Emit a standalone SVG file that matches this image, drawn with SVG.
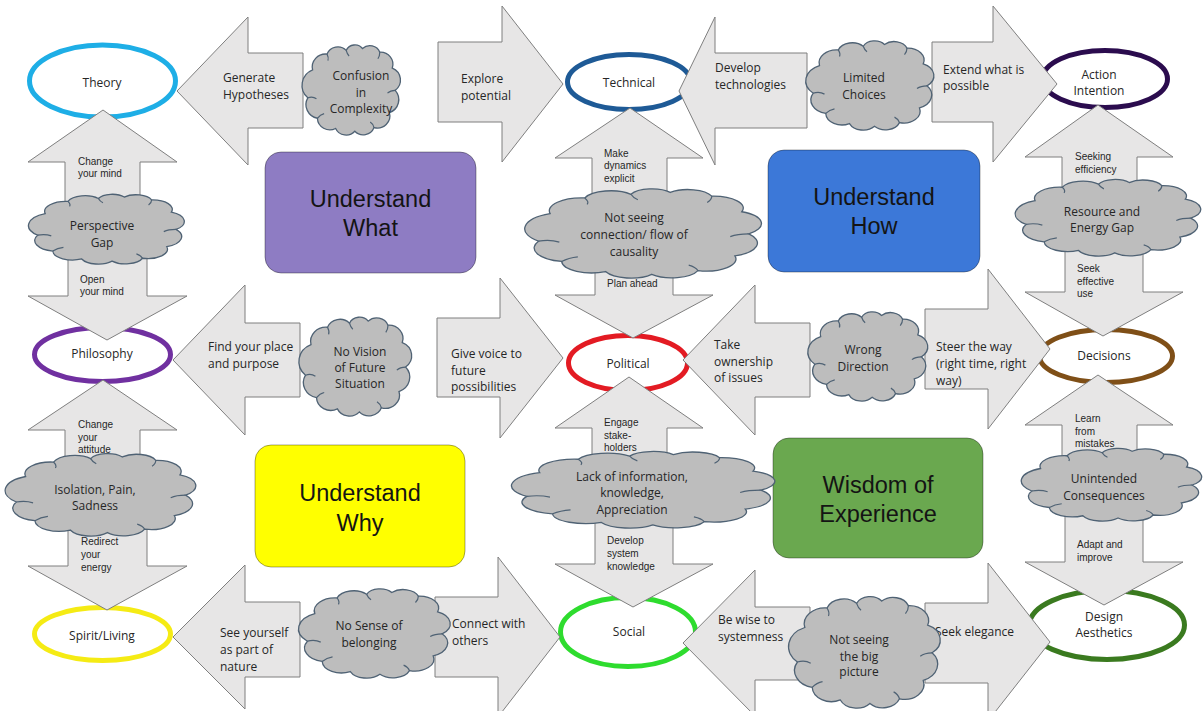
<svg xmlns="http://www.w3.org/2000/svg" xmlns:xlink="http://www.w3.org/1999/xlink" width="1204" height="711" viewBox="0 0 1204 711">
<style>
  .arrow { fill:#E7E6E6; stroke:#7F7F7F; stroke-width:1; }
  .cloud { fill:#BDBDBD; stroke:#4F6274; stroke-width:1.3; }
  .cline { fill:none; stroke:#4F6274; stroke-width:1.2; }
  .ring { fill:#FFFFFF; stroke-width:5; }
  .box { stroke:#000000; stroke-opacity:0.35; stroke-width:1; }
  .t { font-family:"Open Sans","Liberation Sans",sans-serif; font-size:12px; fill:#262626; }
  .s { font-family:"Liberation Sans",Arial,sans-serif; font-size:10px; fill:#262626; }
  .c { text-anchor:middle; }
  .big { font-family:"Liberation Sans",Arial,sans-serif; font-size:23.5px; fill:#141414; text-anchor:middle; }
</style>
<defs>
  <symbol id="cloud" viewBox="0 0 100 100" preserveAspectRatio="none" overflow="visible">
    <path class="cloud" vector-effect="non-scaling-stroke" d="M5 60 A18 18 0 0 1 10 30 A14 14 0 0 1 25 13 A12 12 0 0 1 45 9 A10 10 0 0 1 62 7 A11 11 0 0 1 80 11 A13 13 0 0 1 93 28 A14 14 0 0 1 96 52 A15 15 0 0 1 90 76 A13 13 0 0 1 74 92 A12 12 0 0 1 54 96 A12 12 0 0 1 34 93 A13 13 0 0 1 15 82 A15 15 0 0 1 5 60 Z"/>
    <path class="cline" vector-effect="non-scaling-stroke" d="M5 60 Q10 58 14 61 M15 82 Q18 78 22 77 M45 9 Q46 13 48 15 M80 11 Q80 15 78 18 M96 52 Q91 52 88 55 M74 92 Q73 88 70 86 M25 13 Q27 17 26 20"/>
  </symbol>
</defs>

<!-- summary panels -->
<g id="understand-what">
  <rect class="box" x="265" y="152" width="211" height="121" rx="16" fill="#8E7CC3"/>
  <text class="big" x="370.5" y="207">Understand</text>
  <text class="big" x="370.5" y="236">What</text>
</g>
<g id="understand-how">
  <rect class="box" x="768" y="150" width="212" height="122" rx="16" fill="#3C78D8"/>
  <text class="big" x="874" y="205">Understand</text>
  <text class="big" x="874" y="234">How</text>
</g>
<g id="understand-why">
  <rect class="box" x="255" y="445" width="210" height="122" rx="16" fill="#FFFF00"/>
  <text class="big" x="360" y="501">Understand</text>
  <text class="big" x="360" y="531">Why</text>
</g>
<g id="wisdom-of-experience">
  <rect class="box" x="773" y="438" width="210" height="120" rx="16" fill="#6AA84F"/>
  <text class="big" x="878" y="493">Wisdom of</text>
  <text class="big" x="878" y="522">Experience</text>
</g>

<!-- perspective rings -->
<g id="theory"><ellipse class="ring" cx="102.5" cy="81" rx="73" ry="36" stroke="#1EAEE6"/><text class="t c" x="102" y="87">Theory</text></g>
<g id="technical"><ellipse class="ring" cx="629" cy="82" rx="61.5" ry="27.5" stroke="#1E5A96"/><text class="t c" x="629" y="87">Technical</text></g>
<g id="action-intention"><ellipse class="ring" cx="1105" cy="79" rx="62.5" ry="28.5" stroke="#2B0C4E"/><text class="t c" x="1099" y="79">Action</text><text class="t c" x="1099" y="95">Intention</text></g>
<g id="philosophy"><ellipse class="ring" cx="102.5" cy="354.5" rx="68" ry="27" stroke="#7030A0"/><text class="t c" x="102" y="358">Philosophy</text></g>
<g id="political"><ellipse class="ring" cx="628" cy="363" rx="59.5" ry="27.5" stroke="#E31B23"/><text class="t c" x="628" y="368">Political</text></g>
<g id="decisions"><ellipse class="ring" cx="1106" cy="356" rx="66.5" ry="26.5" stroke="#7F4F17"/><text class="t c" x="1104" y="360">Decisions</text></g>
<g id="spirit-living"><ellipse class="ring" cx="102.5" cy="634" rx="68" ry="26.5" stroke="#F5EB14"/><text class="t c" x="102" y="640">Spirit/Living</text></g>
<g id="social"><ellipse class="ring" cx="628" cy="632" rx="67.5" ry="34.5" stroke="#2EDC2E"/><text class="t c" x="629" y="636">Social</text></g>
<g id="design-aesthetics"><ellipse class="ring" cx="1107" cy="625" rx="77.5" ry="34.5" stroke="#3A7A1F"/><text class="t c" x="1104" y="621">Design</text><text class="t c" x="1104" y="637">Aesthetics</text></g>

<!-- block arrows -->
<g id="connectors">
  <g id="arrow-generate-hypotheses">
    <polygon class="arrow" points="177,91 248,17 248,53 303,53 303,128 248,128 248,165"/>
    <text class="t" x="223" y="82">Generate</text><text class="t" x="223" y="99">Hypotheses</text>
  </g>
  <g id="arrow-explore-potential">
    <polygon class="arrow" points="438,42 502,42 502,6 563,84 502,162 502,122 438,122"/>
    <text class="t" x="461" y="83">Explore</text><text class="t" x="461" y="100">potential</text>
  </g>
  <g id="arrow-develop-technologies">
    <polygon class="arrow" points="679,91 715,17 715,53 807,53 807,128 715,128 715,165"/>
    <text class="t" x="715" y="72">Develop</text><text class="t" x="715" y="89">technologies</text>
  </g>
  <g id="arrow-extend-possible">
    <polygon class="arrow" points="932,42 993,42 993,6 1057,84 993,162 993,122 932,122"/>
    <text class="t" x="943" y="74">Extend what is</text><text class="t" x="943" y="90">possible</text>
  </g>
  <g id="arrow-find-place">
    <polygon class="arrow" points="173,360 245,285 245,323 300,323 300,397 245,397 245,435"/>
    <text class="t" x="208" y="351">Find your place</text><text class="t" x="208" y="368">and purpose</text>
  </g>
  <g id="arrow-give-voice">
    <polygon class="arrow" points="437,318 500,318 500,278 563,358 500,438 500,397 437,397"/>
    <text class="t" x="451" y="358">Give voice to</text><text class="t" x="451" y="375">future</text><text class="t" x="451" y="391">possibilities</text>
  </g>
  <g id="arrow-take-ownership">
    <polygon class="arrow" points="683,360 755,285 755,323 810,323 810,397 755,397 755,435"/>
    <text class="t" x="714" y="349">Take</text><text class="t" x="714" y="366">ownership</text><text class="t" x="714" y="382">of issues</text>
  </g>
  <g id="arrow-steer-way">
    <polygon class="arrow" points="925,309 988,309 988,269 1050,349 988,429 988,389 925,389"/>
    <text class="t" x="936" y="351">Steer the way</text><text class="t" x="936" y="368">(right time, right</text><text class="t" x="936" y="385">way)</text>
  </g>
  <g id="arrow-see-yourself">
    <polygon class="arrow" points="173,637 245,565 245,602 300,602 300,677 245,677 245,709"/>
    <text class="t" x="220" y="637">See yourself</text><text class="t" x="220" y="654">as part of</text><text class="t" x="220" y="671">nature</text>
  </g>
  <g id="arrow-connect-others">
    <polygon class="arrow" points="435,597 498,597 498,557 560,637 498,717 498,677 435,677"/>
    <text class="t" x="452" y="628">Connect with</text><text class="t" x="452" y="645">others</text>
  </g>
  <g id="arrow-be-wise">
    <polygon class="arrow" points="683,643 755,570 755,607 810,607 810,680 755,680 755,716"/>
    <text class="t" x="718" y="624">Be wise to</text><text class="t" x="718" y="641">systemness</text>
  </g>
  <g id="arrow-seek-elegance">
    <polygon class="arrow" points="925,603 988,603 988,563 1050,642 988,721 988,683 925,683"/>
    <text class="t" x="935" y="636">Seek elegance</text>
  </g>

  <g id="arrow-change-mind">
    <polygon class="arrow" points="103,110 177,162 140,162 140,215 65,215 65,162 28,162"/>
    <text class="s" x="78" y="165">Change</text><text class="s" x="78" y="177">your mind</text>
  </g>
  <g id="arrow-open-mind">
    <polygon class="arrow" points="68,240 147,240 147,296 187,296 107,340 28,296 68,296"/>
    <text class="s" x="80" y="283">Open</text><text class="s" x="80" y="295">your mind</text>
  </g>
  <g id="arrow-change-attitude">
    <polygon class="arrow" points="103,380 177,430 140,430 140,485 65,485 65,430 28,430"/>
    <text class="s" x="78" y="428">Change</text><text class="s" x="78" y="441">your</text><text class="s" x="78" y="453">attitude</text>
  </g>
  <g id="arrow-redirect-energy">
    <polygon class="arrow" points="68,510 147,510 147,566 187,566 107,610 28,566 68,566"/>
    <text class="s" x="81" y="545">Redirect</text><text class="s" x="81" y="558">your</text><text class="s" x="81" y="571">energy</text>
  </g>
  <g id="arrow-make-dynamics">
    <polygon class="arrow" points="630,108 703,158 667,158 667,215 592,215 592,158 555,158"/>
    <text class="s" x="604" y="157">Make</text><text class="s" x="604" y="169">dynamics</text><text class="s" x="604" y="182">explicit</text>
  </g>
  <g id="arrow-plan-ahead">
    <polygon class="arrow" points="595,255 673,255 673,295 713,295 633,338 555,295 595,295"/>
    <text class="s" x="607" y="287">Plan ahead</text>
  </g>
  <g id="arrow-engage-stakeholders">
    <polygon class="arrow" points="629,377 703,428 667,428 667,480 592,480 592,428 555,428"/>
    <text class="s" x="604" y="426">Engage</text><text class="s" x="604" y="439">stake-</text><text class="s" x="604" y="451">holders</text>
  </g>
  <g id="arrow-develop-system">
    <polygon class="arrow" points="595,500 673,500 673,564 713,564 633,607 555,564 595,564"/>
    <text class="s" x="607" y="544">Develop</text><text class="s" x="607" y="557">system</text><text class="s" x="607" y="570">knowledge</text>
  </g>
  <g id="arrow-seeking-efficiency">
    <polygon class="arrow" points="1098,105 1173,157 1137,157 1137,205 1062,205 1062,157 1025,157"/>
    <text class="s" x="1075" y="160">Seeking</text><text class="s" x="1075" y="173">efficiency</text>
  </g>
  <g id="arrow-effective-use">
    <polygon class="arrow" points="1065,230 1143,230 1143,292 1183,292 1103,336 1025,292 1065,292"/>
    <text class="s" x="1077" y="272">Seek</text><text class="s" x="1077" y="285">effective</text><text class="s" x="1077" y="297">use</text>
  </g>
  <g id="arrow-learn-mistakes">
    <polygon class="arrow" points="1098,375 1173,425 1137,425 1137,480 1062,480 1062,425 1025,425"/>
    <text class="s" x="1075" y="422">Learn</text><text class="s" x="1075" y="435">from</text><text class="s" x="1075" y="447">mistakes</text>
  </g>
  <g id="arrow-adapt-improve">
    <polygon class="arrow" points="1065,500 1143,500 1143,562 1183,562 1104,605 1025,562 1065,562"/>
    <text class="s" x="1077" y="548">Adapt and</text><text class="s" x="1077" y="561">improve</text>
  </g>
</g>

<!-- obstacle clouds -->
<g id="cloud-confusion"><use href="#cloud" x="303" y="42" width="96" height="93"/>
  <text class="t c" x="361" y="80">Confusion</text><text class="t c" x="361" y="97">in</text><text class="t c" x="361" y="113">Complexity</text></g>
<g id="cloud-limited-choices"><use href="#cloud" x="807" y="38" width="125" height="92"/>
  <text class="t c" x="864" y="82">Limited</text><text class="t c" x="864" y="99">Choices</text></g>
<g id="cloud-perspective-gap"><use href="#cloud" x="30" y="192" width="152" height="72"/>
  <text class="t c" x="102" y="230">Perspective</text><text class="t c" x="102" y="247">Gap</text></g>
<g id="cloud-causality"><use href="#cloud" x="527" y="186" width="231" height="92"/>
  <text class="t c" x="634" y="222">Not seeing</text><text class="t c" x="634" y="239">connection/ flow of</text><text class="t c" x="634" y="256">causality</text></g>
<g id="cloud-resource-gap"><use href="#cloud" x="1017" y="177" width="181" height="79"/>
  <text class="t c" x="1102" y="216">Resource and</text><text class="t c" x="1102" y="232">Energy Gap</text></g>
<g id="cloud-no-vision"><use href="#cloud" x="300" y="314" width="110" height="102"/>
  <text class="t c" x="360" y="356">No Vision</text><text class="t c" x="360" y="372">of Future</text><text class="t c" x="360" y="388">Situation</text></g>
<g id="cloud-wrong-direction"><use href="#cloud" x="809" y="309" width="117" height="92"/>
  <text class="t c" x="863" y="354">Wrong</text><text class="t c" x="863" y="371">Direction</text></g>
<g id="cloud-isolation"><use href="#cloud" x="7" y="451" width="186" height="85"/>
  <text class="t c" x="95" y="494">Isolation, Pain,</text><text class="t c" x="95" y="510">Sadness</text></g>
<g id="cloud-lack-information"><use href="#cloud" x="514" y="449" width="257" height="79"/>
  <text class="t c" x="632" y="481">Lack of information,</text><text class="t c" x="632" y="497">knowledge,</text><text class="t c" x="632" y="514">Appreciation</text></g>
<g id="cloud-unintended"><use href="#cloud" x="1023" y="446" width="176" height="75"/>
  <text class="t c" x="1104" y="483">Unintended</text><text class="t c" x="1104" y="500">Consequences</text></g>
<g id="cloud-no-belonging"><use href="#cloud" x="300" y="586" width="148" height="92"/>
  <text class="t c" x="369" y="630">No Sense of</text><text class="t c" x="369" y="647">belonging</text></g>
<g id="cloud-big-picture"><use href="#cloud" x="790" y="593" width="148" height="115"/>
  <text class="t c" x="859" y="644">Not seeing</text><text class="t c" x="859" y="661">the big</text><text class="t c" x="859" y="676">picture</text></g>
</svg>
